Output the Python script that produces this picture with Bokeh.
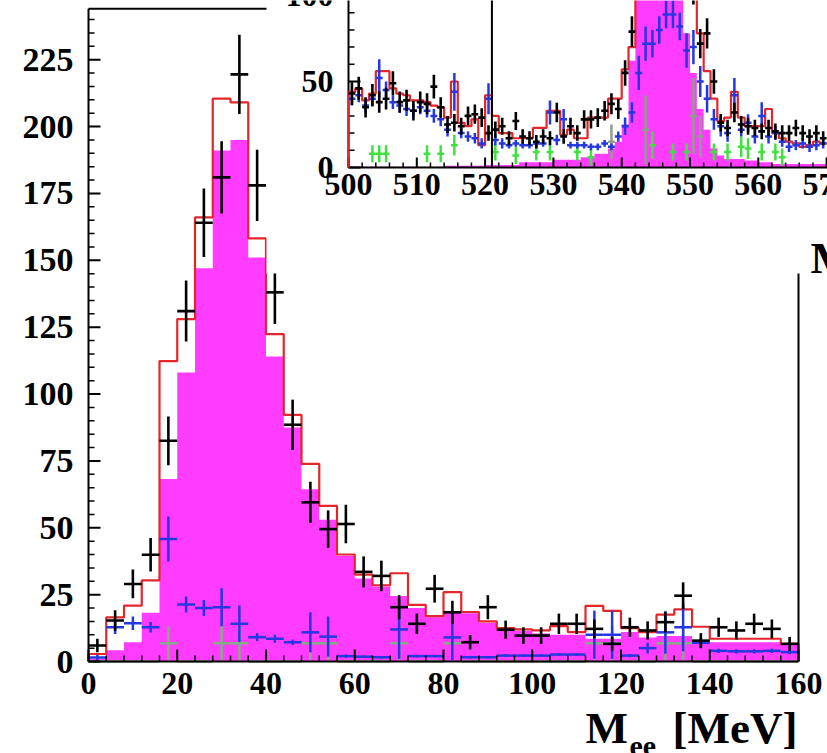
import numpy as np
from bokeh.plotting import figure
from bokeh.models import Range1d
from bokeh.core.properties import value
from bokeh.embed import file_html
from bokeh.resources import INLINE

# ---------------- main histogram: M_ee 0-160 MeV, 4 MeV bins ----------------
main_edges = list(range(0, 164, 4))
main_total = [2.8, 16.5, 20.9, 30.3, 112.3, 128.0, 166.0, 210.4, 209.0, 158.2,
              122.4, 92.2, 73.9, 58.2, 40.0, 32.5, 28.5, 33.0, 21.2, 17.0,
              25.9, 18.5, 15.0, 12.5, 12.0, 11.6, 13.2, 11.0, 20.8, 18.9,
              12.5, 11.0, 17.5, 19.5, 13.0, 8.5, 8.5, 8.5, 8.5, 6.6]
main_signal = [1.0, 4.2, 7.2, 18.2, 68.2, 108.0, 147.0, 191.0, 195.0, 151.0,
               114.0, 87.5, 64.4, 53.0, 39.5, 31.0, 28.0, 24.5, 20.0, 16.5,
               18.5, 18.0, 14.5, 12.0, 11.5, 10.5, 10.0, 10.0, 8.5, 8.5,
               11.0, 9.0, 9.5, 9.5, 7.8, 7.2, 7.2, 7.2, 7.2, 6.2]
main_data = [6.0, 15.3, 29.0, 39.9, 82.5, 131.0, 164.0, 181.0, 219.5, 178.0,
             138.0, 88.5, 59.5, 49.5, 51.4, 33.5, 32.0, 20.3, 14.1, 27.2,
             18.4, 7.2, 20.3, 11.9, 9.7, 9.7, 14.1, 14.1, 12.2, 6.6,
             12.8, 11.6, 14.7, 24.6, 7.8, 12.8, 11.6, 14.1, 12.2, 6.6]
main_data_err = [2.5, 3.9, 5.4, 6.3, 9.1, 11.4, 12.8, 13.5, 14.8, 13.3,
                 11.8, 9.4, 7.7, 7.0, 7.2, 5.8, 5.7, 4.5, 3.8, 5.2,
                 4.3, 2.7, 4.5, 3.4, 3.1, 3.1, 3.8, 3.8, 3.5, 2.6,
                 3.6, 3.4, 3.8, 5.0, 2.8, 3.6, 3.4, 3.8, 3.5, 2.6]
main_blue = [1.5, 12.8, 14.3, 12.8, 45.8, 21.3, 20.0, 20.3, 14.1, 9.1,
             8.5, 7.2, 10.9, 9.3, 2.0, 1.8, 1.6, 12.0, 2.0, 2.0,
             9.0, 1.6, 1.6, 2.2, 2.2, 2.2, 2.6, 2.6, 10.0, 10.0,
             2.2, 5.0, 10.9, 12.8, 7.0, 4.0, 3.8, 3.8, 4.0, 3.5]
main_blue_err = [1.0, 2.5, 2.5, 2.0, 8.4, 3.0, 3.0, 7.1, 6.8, 1.5,
                 1.5, 1.0, 7.5, 7.5, 0.6, 0.5, 0.5, 11.0, 0.5, 0.5,
                 8.5, 0.5, 0.5, 0.5, 0.5, 0.5, 0.5, 0.5, 9.0, 9.0,
                 0.6, 2.0, 8.0, 9.0, 2.0, 0.8, 0.8, 0.8, 0.8, 0.8]
main_green = [0, 0, 0, 0, 6.8, 0, 0, 6.8, 6.8, 0,
              0, 0, 6.8, 6.8, 0, 0, 0, 6.8, 0, 0,
              6.8, 0, 0, 0, 0, 0, 0, 0, 6.8, 6.8,
              0, 0, 6.8, 6.8, 0, 0, 0, 0, 0, 0]
main_green_err = [0, 0, 0, 0, 6.5, 0, 0, 6.5, 6.5, 0,
                  0, 0, 6.5, 6.5, 0, 0, 0, 6.5, 0, 0,
                  6.5, 0, 0, 0, 0, 0, 0, 0, 6.5, 6.5,
                  0, 0, 6.5, 6.5, 0, 0, 0, 0, 0, 0]
main_xticks = [0, 20, 40, 60, 80, 100, 120, 140, 160]
main_yticks = [0, 25, 50, 75, 100, 125, 150, 175, 200, 225]

# ---------------- inset: M 500-570 MeV, 1 MeV bins ----------------
inset_edges = list(range(500, 571))
inset_total = [44, 46, 39, 43, 56, 56, 46, 43, 42, 39,
               39, 38, 36, 35, 29, 50, 26, 24, 28, 13,
               42, 30, 20, 20, 17, 17, 17, 23, 23, 33,
               33, 19, 22, 17, 17, 29, 29, 29, 40, 40,
               57, 70, 120, 140, 160, 175, 180, 170, 150, 125,
               100, 78, 56, 40, 27, 29, 44, 29, 24, 24,
               24, 34, 20, 17, 15, 14, 12, 13, 15, 14]
inset_signal = [0.5, 0.5, 0.5, 0.5, 0.5, 0.5, 0.5, 0.5, 0.5, 0.5,
                0.5, 0.5, 0.5, 0.5, 1, 1, 1, 1, 1, 1,
                1.5, 1.5, 1.5, 1.5, 1.5, 3, 3, 3, 3, 3,
                4.5, 4.5, 4.5, 4.5, 6, 6, 8, 8, 11, 15,
                25, 62, 110, 130, 150, 160, 165, 155, 130, 78,
                55, 34, 22, 11, 7, 5, 5, 5, 4, 4,
                3, 3, 2, 2, 2, 2, 2, 2, 2, 2]
inset_data = [43, 46, 35, 42, 38, 40, 49, 38, 39, 33,
              38, 37, 47, 35, 25, 26, 24, 30, 31, 29,
              20, 22, 24, 17, 27, 18, 17, 15, 18, 17,
              32, 18, 24, 20, 28, 28, 29, 33, 37, 34,
              55, 79, 115, 135, 150, 165, 170, 160, 140, 120,
              105, 72, 78, 50, 26, 23, 32, 25, 24, 23,
              21, 23, 21, 20, 20, 23, 20, 18, 20, 17]
inset_data_err = [6.6, 6.8, 5.9, 6.5, 6.2, 6.3, 7.0, 6.2, 6.2, 5.7,
                  6.2, 6.1, 6.9, 5.9, 5.0, 5.1, 4.9, 5.5, 5.6, 5.4,
                  4.5, 4.7, 4.9, 4.1, 5.2, 4.2, 4.1, 3.9, 4.2, 4.1,
                  5.7, 4.2, 4.9, 4.5, 5.3, 5.3, 5.4, 5.7, 6.1, 5.8,
                  7.4, 8.9, 10.7, 11.6, 12.2, 12.8, 13.0, 12.6, 11.8, 11.0,
                  10.2, 8.5, 8.8, 7.1, 5.1, 4.8, 5.7, 5.0, 4.9, 4.8,
                  4.6, 4.8, 4.6, 4.5, 4.5, 4.8, 4.5, 4.2, 4.5, 4.1]
inset_blue = [40, 42, 36, 40, 52, 45, 38, 36, 34, 33,
              35, 33, 30, 28, 22, 44, 20, 18, 17, 14,
              40, 16, 14, 13, 14, 13, 13, 14, 14, 32,
              16, 28, 13, 13, 13, 12, 12, 14, 12, 18,
              24, 32, 55, 72, 72, 80, 89, 89, 82, 68,
              70, 50, 40, 28, 24, 20, 42, 22, 26, 18,
              30, 18, 20, 15, 12, 13, 14, 12, 13, 14]
inset_blue_err = [4, 4, 4, 4, 11, 5, 4, 4, 4, 4,
                  4, 4, 4, 4, 4, 11, 3, 3, 3, 3,
                  9, 3, 3, 2, 2, 2, 2, 2, 2, 7,
                  3, 6, 2, 2, 2, 2, 2, 2, 2, 3,
                  5, 6, 10, 10, 8, 8, 8, 8, 8, 10,
                  10, 9, 8, 6, 6, 5, 10, 4, 5, 4,
                  8, 4, 4, 3, 3, 3, 3, 3, 3, 3]
inset_green = [0, 0, 0, 8, 8, 8, 0, 0, 0, 0,
               0, 8, 0, 8, 0, 13, 0, 0, 0, 0,
               0, 9, 0, 0, 7, 0, 0, 9, 0, 9,
               0, 0, 0, 9, 0, 6, 0, 0, 0, 0,
               0, 0, 0, 0, 13, 0, 0, 9, 0, 9,
               0, 0, 0, 9, 0, 9, 0, 12, 11, 0,
               9, 0, 9, 6, 0, 0, 0, 0, 0, 0]
inset_green_err = [0, 0, 0, 5, 5, 5, 0, 0, 0, 0,
                   0, 5, 0, 5, 0, 6, 0, 0, 0, 0,
                   0, 5, 0, 0, 5, 0, 0, 5, 0, 5,
                   0, 0, 0, 5, 0, 5, 0, 0, 0, 0,
                   0, 0, 0, 0, 8, 0, 0, 5, 0, 5,
                   0, 0, 0, 5, 0, 5, 0, 6, 6, 0,
                   5, 0, 5, 5, 0, 0, 0, 0, 0, 0]
inset_gray_lo = [538, 543, 550, 551]
inset_gray = [15, 22, 30, 18]
inset_gray_err = [10, 20, 22, 12]
inset_xticks = [500, 510, 520, 530, 540, 550, 560, 570]
inset_yticks = [0, 50, 100]
inset_marker_line = 521

# ---------------- layout (pixel geometry of the page) ----------------
W, H = 827, 753
MX0, MY0 = 88, 661              # main (0, 0) in page px
MX = 4.4375                     # main px per MeV
MY = 2.675                      # main px per count
IX0, IY0 = 348, 167             # inset (500, 0) in page px
IX = 6.83                       # inset px per MeV
IY = 1.72                       # inset px per count
SERIF = "Liberation Serif"

p = figure(width=W, height=H, output_backend="svg", toolbar_location=None,
           title=None, x_axis_type=None, y_axis_type=None,
           x_range=Range1d(-MX0 / MX, (W - MX0) / MX),
           y_range=Range1d(-(H - MY0) / MY, MY0 / MY),
           min_border_left=0, min_border_right=0, min_border_top=0,
           min_border_bottom=0, outline_line_color=None,
           background_fill_color="white", border_fill_color="white")
p.extra_x_ranges = {"ix": Range1d(500 - IX0 / IX, 500 + (W - IX0) / IX)}
p.extra_y_ranges = {"iy": Range1d(-(H - IY0) / IY, IY0 / IY)}
p.xgrid.visible = False
p.ygrid.visible = False
IR = dict(x_range_name="ix", y_range_name="iy")


def step_xy(edges, vals):
    xs, ys = [edges[0]], [0]
    for i, v in enumerate(vals):
        xs += [edges[i], edges[i + 1]]
        ys += [v, v]
    xs.append(edges[-1])
    ys.append(0)
    return xs, ys


def crosses(lo, hi, vals, errs, color, width, skip_zero=False, **rk):
    lo, hi = np.asarray(lo, float), np.asarray(hi, float)
    v, e = np.asarray(vals, float), np.asarray(errs, float)
    if skip_zero:
        m = v > 0
        lo, hi, v, e = lo[m], hi[m], v[m], e[m]
    c = (lo + hi) / 2
    p.segment(x0=c, y0=v - e, x1=c, y1=v + e, line_color=color, line_width=width, **rk)
    p.segment(x0=lo, y0=v, x1=hi, y1=v, line_color=color, line_width=width, **rk)


def labels(xs, ys, texts, size, align, xoff=0, yoff=0, **rk):
    p.text(x=xs, y=ys, text=texts, text_font=value(SERIF), text_font_style="bold",
           text_font_size=size, text_align=align, text_baseline="middle",
           x_offset=xoff, y_offset=yoff, text_color="black", **rk)


MAGENTA = "#ff3cff"
RED = "#e3262b"
BLUE = "#2437e0"
GRAYGREEN = "#84ad84"
GREEN = "#3fe03f"
GRAY = "#8e9e8e"

# ---------------- main plot ----------------
me = main_edges
sx, sy = step_xy(me, main_signal)
p.patch(sx, sy, fill_color=MAGENTA, line_color=None)
xs, ys = step_xy(me, main_total)
p.line(xs, ys, line_color=RED, line_width=2.2)
crosses(me[:-1], me[1:], main_green, main_green_err, GRAYGREEN, 2.5)
crosses(me[:-1], me[1:], main_blue, main_blue_err, BLUE, 2.5)
crosses(me[:-1], me[1:], main_data, main_data_err, "black", 2.6)

# frame
frame_top = 244
p.segment(x0=[0, 0, 160, 0], y0=[0, frame_top, 0, 0],
          x1=[0, 160, 160, 160], y1=[frame_top, frame_top, frame_top, 0],
          line_color="black", line_width=2)
# ticks (inside)
y_minor = [t for t in range(0, 245, 5) if t not in main_yticks]
x_minor = [t for t in range(0, 161, 4) if t not in main_xticks]
p.segment(x0=[0] * len(main_yticks), y0=main_yticks,
          x1=[12 / MX] * len(main_yticks), y1=main_yticks, line_color="black", line_width=2)
p.segment(x0=[0] * len(y_minor), y0=y_minor, x1=[6 / MX] * len(y_minor), y1=y_minor,
          line_color="black", line_width=1.5)
p.segment(x0=main_xticks, y0=[0] * len(main_xticks), x1=main_xticks,
          y1=[12 / MY] * len(main_xticks), line_color="black", line_width=2)
p.segment(x0=x_minor, y0=[0] * len(x_minor), x1=x_minor, y1=[6 / MY] * len(x_minor),
          line_color="black", line_width=1.5)
labels([0] * len(main_yticks), main_yticks, [str(t) for t in main_yticks], "34px",
       "right", xoff=-15)
labels(main_xticks, [0] * len(main_xticks), [str(t) for t in main_xticks], "32px",
       "center", yoff=22)

# axis title  M_ee [MeV]
p.text(x=[(585 - MX0) / MX], y=[(MY0 - 727) / MY], text=["M"], text_font=value(SERIF),
       text_font_style="bold", text_font_size="45px", text_align="left",
       text_baseline="middle", text_color="black")
p.text(x=[(629 - MX0) / MX], y=[(MY0 - 746) / MY], text=["ee"], text_font=value(SERIF),
       text_font_style="bold", text_font_size="30px", text_align="left",
       text_baseline="middle", text_color="black")
p.text(x=[(672 - MX0) / MX], y=[(MY0 - 727) / MY], text=["[MeV]"], text_font=value(SERIF),
       text_font_style="bold", text_font_size="45px", text_align="left",
       text_baseline="middle", text_color="black")

# ---------------- inset background ----------------
p.quad(left=(266 - MX0) / MX, right=(W - MX0) / MX + 5, bottom=(MY0 - 273) / MY,
       top=MY0 / MY + 5, fill_color="white", line_color=None)

# ---------------- inset ----------------
ie = inset_edges
ix_end = 500 + (W - IX0) / IX
iy_end = IY0 / IY

sx, sy = step_xy(ie, inset_signal)
p.patch(sx, sy, fill_color=MAGENTA, line_color=None, **IR)

# inset axes and ticks
p.segment(x0=[500, 500], y0=[0, 0], x1=[500, ix_end + 1], y1=[iy_end + 1, 0],
          line_color="black", line_width=2, **IR)
iy_minor = [t for t in range(0, 101, 10) if t not in inset_yticks]
p.segment(x0=[500] * len(inset_yticks), y0=inset_yticks,
          x1=[500 + 12 / IX] * len(inset_yticks), y1=inset_yticks,
          line_color="black", line_width=2, **IR)
p.segment(x0=[500] * len(iy_minor), y0=iy_minor, x1=[500 + 6 / IX] * len(iy_minor),
          y1=iy_minor, line_color="black", line_width=1.5, **IR)
ix_minor = [t for t in range(500, 572, 2) if t not in inset_xticks]
p.segment(x0=inset_xticks, y0=[0] * len(inset_xticks), x1=inset_xticks,
          y1=[10 / IY] * len(inset_xticks), line_color="black", line_width=2, **IR)
p.segment(x0=ix_minor, y0=[0] * len(ix_minor), x1=ix_minor, y1=[5 / IY] * len(ix_minor),
          line_color="black", line_width=1.5, **IR)
labels(inset_xticks, [0] * len(inset_xticks), [str(t) for t in inset_xticks], "32px",
       "center", yoff=17, **IR)
labels([500] * len(inset_yticks), inset_yticks, [str(t) for t in inset_yticks], "32px",
       "right", xoff=-15, **IR)

# inset histograms
xs, ys = step_xy(ie, inset_total)
p.line(xs[:-1], ys[:-1], line_color=RED, line_width=2.2, **IR)
crosses(ie[:-1], ie[1:], inset_green, inset_green_err, GREEN, 2.5, skip_zero=True, **IR)
crosses(inset_gray_lo, [b + 1 for b in inset_gray_lo], inset_gray, inset_gray_err,
        GRAY, 2.5, **IR)
crosses(ie[:-1], ie[1:], inset_blue, inset_blue_err, BLUE, 2.5, **IR)
crosses(ie[:-1], ie[1:], inset_data, inset_data_err, "black", 2.6, **IR)
p.segment(x0=[inset_marker_line], y0=[0], x1=[inset_marker_line], y1=[iy_end + 1],
          line_color="black", line_width=2, **IR)

# inset axis title (cut off by the page edge)
p.text(x=[500 + (810 - IX0) / IX], y=[(IY0 - 257) / IY], text=["M"],
       text_font=value(SERIF), text_font_style="bold", text_font_size="45px",
       text_align="left", text_baseline="middle", text_color="black", **IR)

open("out.html", "w").write(file_html(p, INLINE))
